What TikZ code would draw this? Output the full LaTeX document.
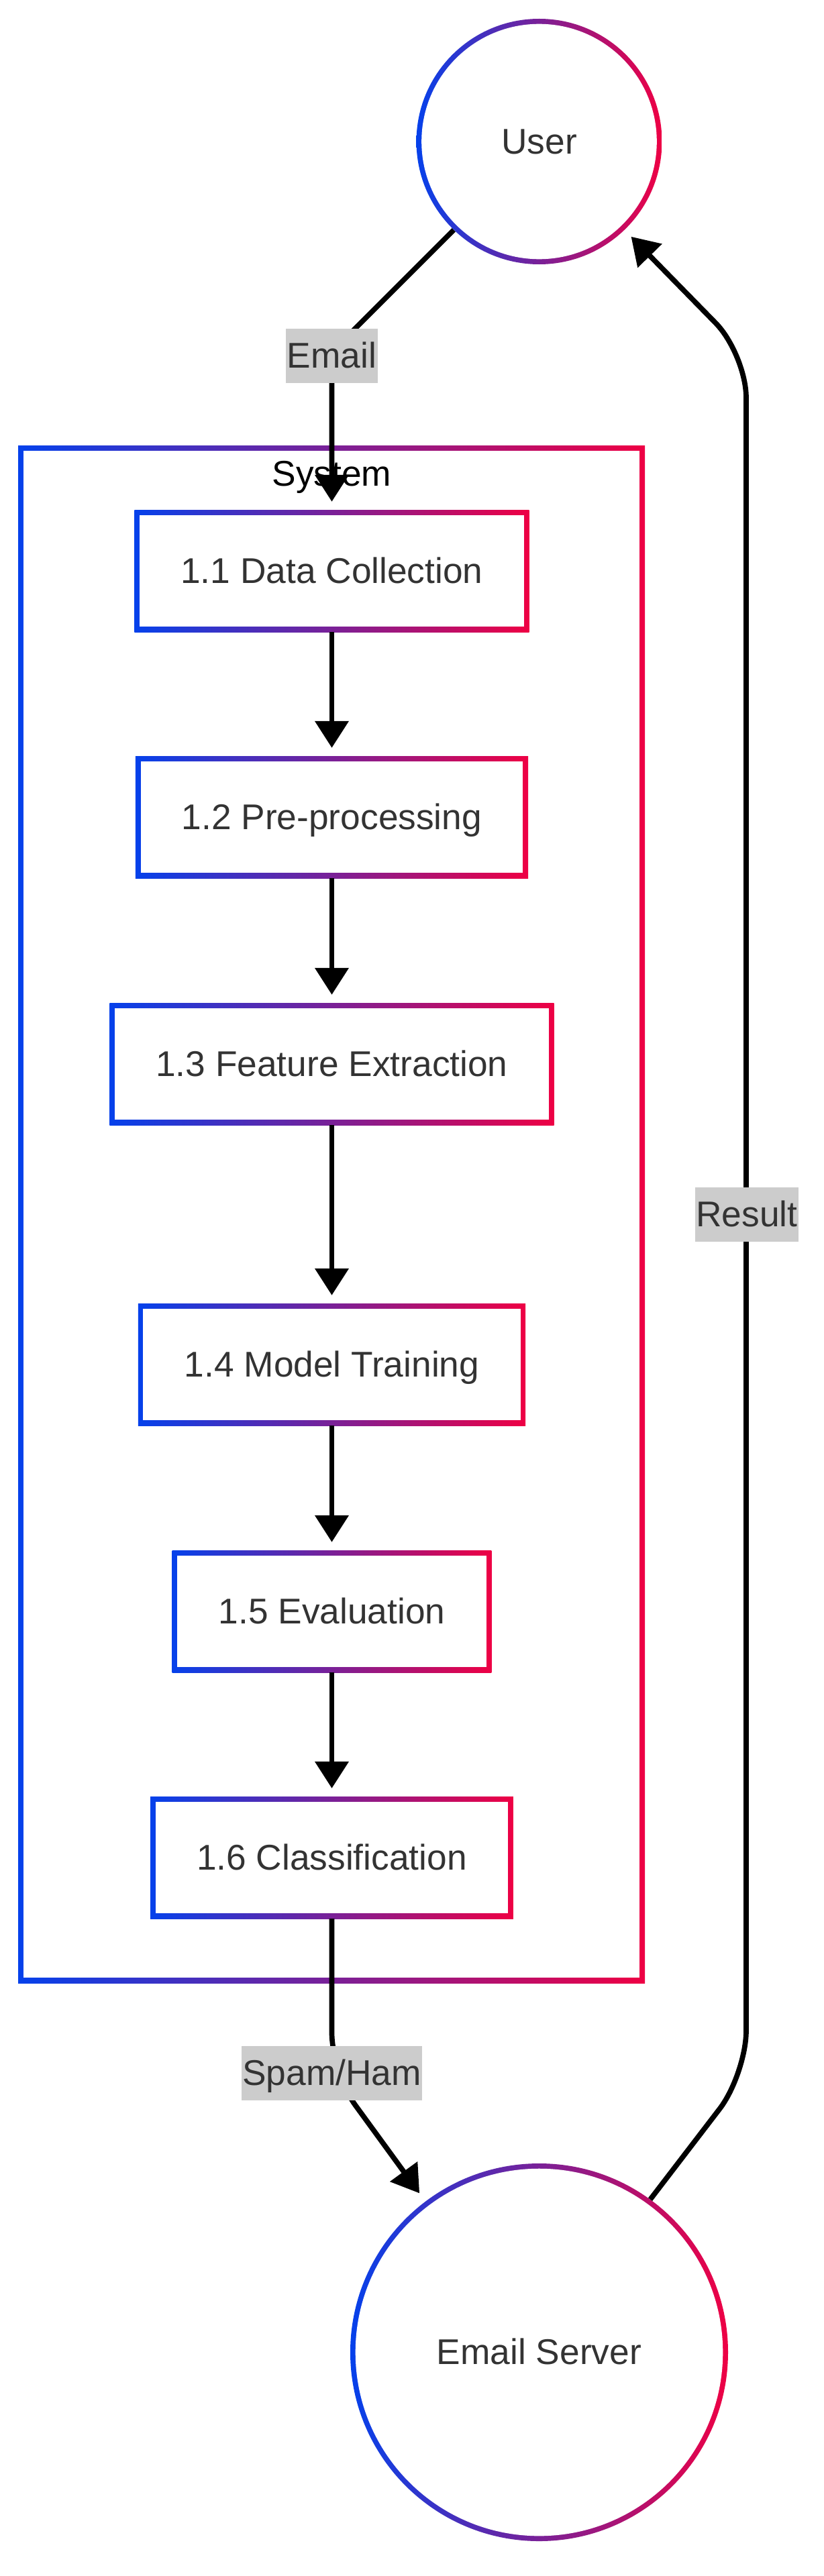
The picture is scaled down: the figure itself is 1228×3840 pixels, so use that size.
\documentclass[tikz,border=0pt]{standalone}
\usepackage{fontspec}
\setmainfont{Liberation Sans}
\usetikzlibrary{arrows.meta}
\definecolor{gblue}{RGB}{5,65,235}
\definecolor{gred}{RGB}{238,0,68}
\definecolor{txt}{HTML}{333333}
\definecolor{lblgray}{HTML}{CCCCCC}
\newcommand{\dfont}{\fontsize{53.3pt}{64pt}\selectfont}
\tikzset{
  gradfill/.style={left color=gblue, right color=gred},
  dtext/.style={font=\dfont, text height=48.2pt, text depth=11.3pt},
  gbox/.style={rectangle, gradfill, dtext, text=txt, minimum height=182pt,
    inner xsep=69pt, inner ysep=0pt,
    path picture={\fill[white] ([shift={(7.7pt,7.7pt)}]path picture bounding box.south west)
      rectangle ([shift={(-7.7pt,-7.7pt)}]path picture bounding box.north east);}},
  gframe/.style={rectangle, gradfill, minimum width=934pt, minimum height=2292pt, inner sep=0pt,
    path picture={\fill[white] ([shift={(7.7pt,7.7pt)}]path picture bounding box.south west)
      rectangle ([shift={(-7.7pt,-7.7pt)}]path picture bounding box.north east);}},
  gcirc/.style={circle, gradfill, dtext, text=txt, minimum size=#1, inner sep=0pt,
    path picture={\fill[white] (path picture bounding box.center) circle[radius=#1/2-7.7pt];}},
  lbl/.style={fill=lblgray, dtext, text=txt, inner xsep=1.5pt, inner ysep=10.75pt},
  conn/.style={draw=black, line width=7.7pt, -{Triangle[length=40pt,width=49pt]}, shorten >=12pt}
}
\begin{document}
\begin{tikzpicture}[x=1pt, y=-1pt]
\useasboundingbox (0,0) rectangle (1228,3840);
% system frame
\node[gframe] (sys) at (494,1810) {};
\node[dtext, text=black, inner sep=0pt] (sysl) at (494.5,706.5) {System};
% process boxes
\node[gbox] (b1) at (494.5,851) {1.1 Data Collection};
\node[gbox] (b2) at (494.5,1218) {1.2 Pre-processing};
\node[gbox] (b3) at (494.5,1586) {1.3 Feature Extraction};
\node[gbox] (b4) at (494.5,2034) {1.4 Model Training};
\node[gbox] (b5) at (494.5,2402) {1.5 Evaluation};
\node[gbox] (b6) at (494.5,2769) {1.6 Classification};
% external entities
\node[gcirc=366pt] (u) at (803.5,211) {User};
\node[gcirc=563pt] (es) at (803.5,3506.5) {Email Server};
% bend coordinates
\coordinate (e1) at (494.5,524.5);
\coordinate (s1) at (494.5,3090);
\coordinate (r1) at (1112,3092);
\coordinate (r2) at (1112,528);
% connectors
\draw[conn, rounded corners=40pt] (u.226) -- (e1) -- (b1.north);
\draw[conn] (b1.south) -- (b2.north);
\draw[conn] (b2.south) -- (b3.north);
\draw[conn] (b3.south) -- (b4.north);
\draw[conn] (b4.south) -- (b5.north);
\draw[conn] (b5.south) -- (b6.north);
\draw[conn, shorten >=15pt, rounded corners=60pt] (b6.south) -- (s1) -- (es.127);
\draw[conn, shorten >=14pt, rounded corners=65pt] (es.54) -- (r1) -- (r2) -- (u.314);
% edge labels
\node[lbl] (le) at (494.5,530) {Email};
\node[lbl] (ls) at (494.5,3090.5) {Spam/Ham};
\node[lbl] (lr) at (1113,1810) {Result};
\end{tikzpicture}
\end{document}
